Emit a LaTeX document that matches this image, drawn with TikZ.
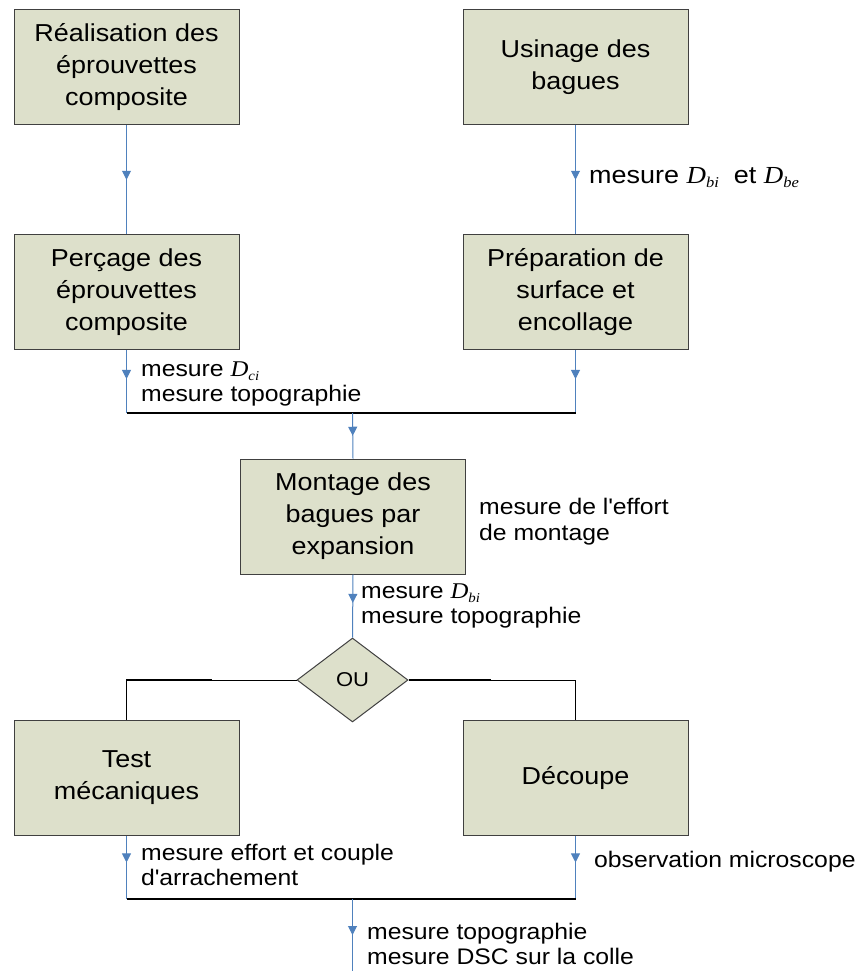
\documentclass[tikz,border=0pt]{standalone}
\usepackage{fontspec}
\setmainfont{Liberation Sans}[FakeStretch=1.1]
\newfontfamily\tnr{Liberation Serif}[FakeStretch=1.1]
\usetikzlibrary{shapes.geometric,arrows.meta,decorations.markings}
\definecolor{boxfill}{RGB}{221,224,203}
\definecolor{boxline}{RGB}{64,64,64}
\definecolor{flow}{RGB}{79,129,189}
\newcommand\Dsub[2]{{\tnr\itshape D}\raisebox{-0.2em}{\fontsize{#2}{#2}\selectfont\tnr\itshape #1}}
\begin{document}
\begin{tikzpicture}[x=1pt,y=-1pt,
  stepbox/.style={draw=boxline, line width=1pt, fill=boxfill, minimum width=225pt, minimum height=115pt, inner sep=0pt, align=center, font=\fontsize{24.5}{32}\selectfont},
  orbox/.style={diamond, draw=boxline, line width=1pt, fill=boxfill, minimum width=111pt, minimum height=84pt, inner sep=0pt, font=\fontsize{20}{24}\selectfont},
  lbl/.style={inner sep=0pt, align=left, font=\fontsize{22.5}{25.5}\selectfont},
  flowline/.style={draw=flow, line width=1pt},
  midarrow/.style={postaction={decorate}, decoration={markings, mark=at position #1 with {\arrow[color=flow]{Triangle[width=9pt,length=9pt]}}}},
  midarrow/.default=0.5,
  joinline/.style={draw=black, line width=2pt},
  orthin/.style={draw=black, line width=0.8pt},
  orthick/.style={draw=black, line width=1.8pt}]
\useasboundingbox (0,0) rectangle (857,971);
% boxes
\node[stepbox] (B1) at (126.5,67.5) {Réalisation des\\éprouvettes\\composite};
\node[stepbox] (B3) at (575.5,67.5) {Usinage des\\bagues};
\node[stepbox] (B2) at (126.5,292) {Perçage des\\éprouvettes\\composite};
\node[stepbox] (B4) at (575.5,292) {Préparation de\\surface et\\encollage};
\node[stepbox] (M) at (353,516.5) {Montage des\\bagues par\\expansion};
\node[orbox] (D) at (352.5,680) {OU};
\node[stepbox] (T) at (126.5,778) {Test\\mécaniques};
\node[stepbox] (C) at (575.5,778) {Découpe};
% top connectors
\draw[flowline,midarrow] (B1) -- (B2);
\draw[flowline,midarrow] (B3) -- (B4);
\coordinate (J1) at (352.5,413);
\draw[flowline,midarrow=0.46] (B2.south) -- (B2.south |- J1);
\draw[flowline,midarrow=0.46] (B4.south) -- (B4.south |- J1);
\draw[joinline] (B2.south |- J1) -- (B4.south |- J1);
\draw[flowline,midarrow] (J1) -- (M.north);
\draw[flowline,midarrow=0.45] (M.south) -- (D.north);
% OR branches
\path (T.north |- D.west) coordinate (TL);
\path (C.north |- D.east) coordinate (TR);
\draw[orthin] (D.west) -| (T.north);
\draw[orthick] ([xshift=85pt]TL) -- (TL) -- ([yshift=-19pt]TL);
\draw[orthin] (D.east) -| (C.north);
\draw[orthick] (D.east) -- ([xshift=-85pt]TR);
\draw[orthick] ([yshift=-19pt]TR) -- (C.north);
% bottom join
\coordinate (J2) at (352.5,899);
\coordinate (E) at (352.5,971);
\draw[flowline,midarrow=0.42] (T.south) -- (T.south |- J2);
\draw[flowline,midarrow=0.42] (C.south) -- (C.south |- J2);
\draw[joinline] (T.south |- J2) -- (C.south |- J2);
\draw[flowline,midarrow] (J2) -- (E);
% labels
\node[lbl, anchor=base west, font=\fontsize{24.5}{28}\selectfont] (L1) at (589,183) {mesure \Dsub{bi}{15}\ \ et \Dsub{be}{15}};
\node[lbl, anchor=west] (L2) at (141,384) {mesure \Dsub{ci}{13.5}\\mesure topographie};
\node[lbl, anchor=west] (L3) at (479,521.5) {mesure de l\textquotesingle effort\\de montage};
\node[lbl, anchor=west] (L4) at (361,606) {mesure \Dsub{bi}{13.5}\\mesure topographie};
\node[lbl, anchor=west] (L5) at (141,865) {mesure effort et couple\\d\textquotesingle arrachement};
\node[lbl, anchor=base west] (L6) at (594,867) {observation microscope};
\node[lbl, anchor=west] (L7) at (367,944) {mesure topographie\\mesure DSC sur la colle};
\end{tikzpicture}
\end{document}
